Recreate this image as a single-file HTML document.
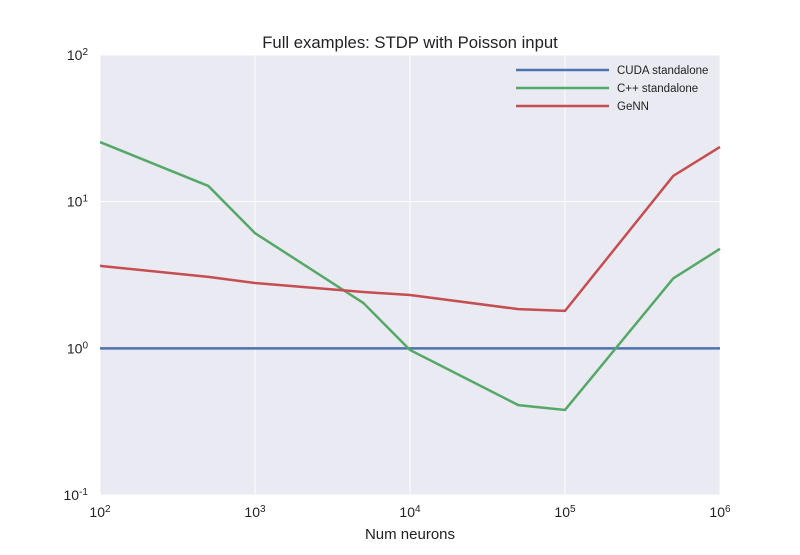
<!DOCTYPE html>
<html><head><meta charset="utf-8"><style>
body{margin:0;background:#fff;}
svg text{font-family:"Liberation Sans",sans-serif;}
</style></head><body>
<svg id="chart" width="800" height="550"></svg>
<script>
const xValues=[100,500,1000,5000,10000,50000,100000,500000,1000000];
const cudaValues=[1,1,1,1,1,1,1,1,1];
const cppValues=[25.5,12.8,6.1,2.04,0.975,0.41,0.38,3.0,4.77];
const gennValues=[3.65,3.07,2.79,2.42,2.31,1.85,1.8,15,23.6];
const xTicks=[2,3,4,5,6];
const yTicks=[-1,0,1,2];
const NS='http://www.w3.org/2000/svg';
const svg=document.getElementById('chart');
const L=100,R=720,T=55,B=495;
const xs=v=>L+(Math.log10(v)-2)/4*(R-L);
const ys=v=>B-(Math.log10(v)+1)/3*(B-T);
function mk(t,a,txt){const e=document.createElementNS(NS,t);for(const k in a)e.setAttribute(k,a[k]);if(txt!==undefined)e.textContent=txt;svg.appendChild(e);return e;}
const bg=mk('rect',{x:L,y:T,width:R-L,height:B-T,fill:'#eaeaf2'});


xTicks.forEach(p=>{const x=xs(Math.pow(10,p));
 const g=mk('line',{x1:x,x2:x,y1:T,y2:B,stroke:'#fff','stroke-width':1});
 
 
 const t=mk('text',{x:x,y:517,'font-size':14,'text-anchor':'middle',fill:'#222'});
 
 
 t.innerHTML='10<tspan font-size="10" dy="-5">'+p+'</tspan>';});
yTicks.forEach(p=>{const y=ys(Math.pow(10,p));
 const g=mk('line',{x1:L,x2:R,y1:y,y2:y,stroke:'#fff','stroke-width':1});
 
 
 const t=mk('text',{x:88,y:y+5,'font-size':14,'text-anchor':'end',fill:'#222'});
 
 
 t.innerHTML='10<tspan font-size="10" dy="-5">'+p+'</tspan>';});
const series=[['CUDA standalone',cudaValues,'#4c72b0'],['C++ standalone',cppValues,'#55a868'],['GeNN',gennValues,'#c44e52']];
series.forEach((s,i)=>{
 const pts=xValues.map((x,j)=>xs(x)+','+ys(s[1][j])).join(' ');
 const pl=mk('polyline',{points:pts,fill:'none',stroke:s[2],'stroke-width':2.5});
 
 
 const y=70+i*18;
 const ll=mk('line',{x1:516,x2:609,y1:y,y2:y,stroke:s[2],'stroke-width':2.5});
 
 
 const lt=mk('text',{x:617,y:y+4,'font-size':11.5,fill:'#222'},s[0]);
 
 
});
const title=mk('text',{x:410,y:48,'font-size':16.7,'text-anchor':'middle',fill:'#222'},'Full examples: STDP with Poisson input');


const xt=mk('text',{x:410,y:539,'font-size':15,'text-anchor':'middle',fill:'#222'},'Num neurons');


</script>
</body></html>
